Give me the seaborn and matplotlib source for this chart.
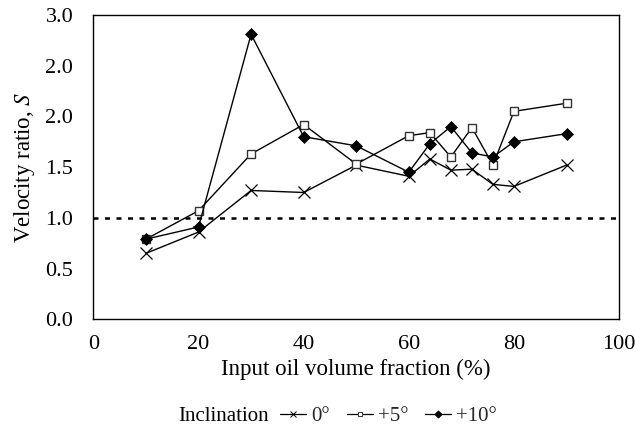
import numpy as np
import pandas as pd
import seaborn as sns
import matplotlib
matplotlib.use("Agg")
import matplotlib.pyplot as plt
from matplotlib.lines import Line2D

# Input oil volume fraction (%)
oil_fraction = [10, 20, 30, 40, 50, 60, 64, 68, 72, 76, 80, 90]

# Velocity ratio S for each pipe inclination
s_0deg = [0.65, 0.86, 1.27, 1.25, 1.52, 1.41, 1.58, 1.47, 1.48, 1.33, 1.31, 1.52]
s_5deg = [0.79, 1.07, 1.63, 1.92, 1.53, 1.81, 1.84, 1.60, 1.89, 1.52, 2.05, 2.13]
s_10deg = [0.79, 0.91, 2.81, 1.80, 1.71, 1.45, 1.73, 1.90, 1.64, 1.60, 1.75, 1.83]

series_labels = ["0\u00b0", "+5\u00b0", "+10\u00b0"]
y_ticks = [0.0, 0.5, 1.0, 1.5, 2.0, 2.5, 3.0]
y_tick_labels = ["0.0", "0.5", "1.0", "1.5", "2.0", "2.0", "3.0"]
x_ticks = [0, 20, 40, 60, 80, 100]

df = pd.DataFrame({
    "fraction": oil_fraction * 3,
    "S": s_0deg + s_5deg + s_10deg,
    "inclination": [series_labels[0]] * len(oil_fraction)
    + [series_labels[1]] * len(oil_fraction)
    + [series_labels[2]] * len(oil_fraction),
})

sns.set_theme(style="white")
plt.rcParams["font.family"] = ["Liberation Serif", "DejaVu Serif"]
plt.rcParams["mathtext.fontset"] = "stix"

fig = plt.figure(figsize=(6.35, 4.28), dpi=100)
ax = fig.add_axes([0.147, 0.254, 0.828, 0.711])

styles = {
    series_labels[0]: dict(marker="x", markersize=8, markerfacecolor="black",
                           markeredgecolor="black", markeredgewidth=0.9),
    series_labels[1]: dict(marker="s", markersize=6, markerfacecolor="white",
                           markeredgecolor="#333333", markeredgewidth=1.0),
    series_labels[2]: dict(marker="D", markersize=6, markerfacecolor="black",
                           markeredgecolor="black", markeredgewidth=0.5),
}

for lab in series_labels:
    sub = df[df["inclination"] == lab]
    sns.lineplot(data=sub, x="fraction", y="S", ax=ax, color="black",
                 linewidth=1.0, sort=False, estimator=None, legend=False,
                 **styles[lab])

ax.axhline(1.0, color="black", linestyle=(0, (2, 2.6)), linewidth=1.8, zorder=1)

ax.set_xlim(0, 100)
ax.set_ylim(0, 3.0)
ax.set_xticks(x_ticks)
ax.set_yticks(y_ticks)
ax.set_yticklabels(y_tick_labels)
ax.tick_params(axis="both", direction="out", length=5.5, width=1.0,
               labelsize=16, color="black", labelcolor="black")
ax.tick_params(axis="y", pad=9)
ax.tick_params(axis="x", pad=6)
for sp in ax.spines.values():
    sp.set_color("black")
    sp.set_linewidth(1.0)
ax.set_xlabel("Input oil volume fraction (%)", fontsize=16.5, color="black", labelpad=3)
ax.set_ylabel("Velocity ratio, $\\mathit{S}$", fontsize=16.5, color="black", labelpad=6)

handles = [Line2D([], [], color="black", linewidth=0.9,
                  marker=styles[lab]["marker"],
                  markersize=styles[lab]["markersize"] * 0.6,
                  markerfacecolor=styles[lab]["markerfacecolor"],
                  markeredgecolor=styles[lab]["markeredgecolor"],
                  markeredgewidth=0.7)
           for lab in series_labels]
fig.text(0.423, 0.026, "Inclination", fontsize=15, color="black",
         ha="right", va="center")
fig.legend(handles, series_labels, loc="center left",
           bbox_to_anchor=(0.441, 0.028), ncol=3, frameon=False,
           fontsize=15, handlelength=1.25, handletextpad=0.25,
           columnspacing=0.8, borderaxespad=0, borderpad=0)

fig.savefig("out.png", dpi=100)
